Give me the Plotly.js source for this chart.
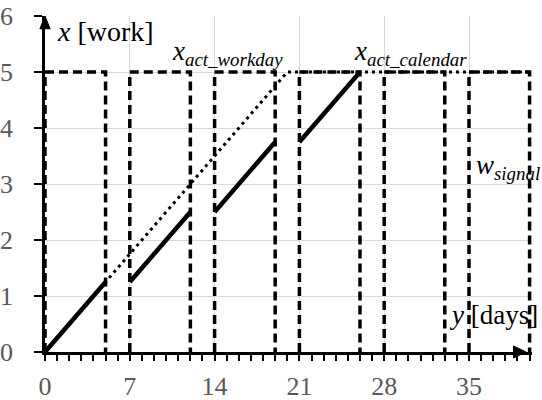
<!DOCTYPE html>
<html>
<head>
<meta charset="utf-8">
<script src="https://cdn.plot.ly/plotly-3.0.1.min.js"></script>
</head>
<body style="margin:0">
<div id="chart" style="width:542px;height:400px"></div>
<script>
// Signal (working days = 5, weekend = 0); null separates weeks
const signalDays = [0,0,5,5,null,7,7,12,12,null,14,14,19,19,null,21,21,26,26,null,28,28,33,33,null,35,35,40,40];
const signalWork = [0,5,5,0,null,0,5,5,0,null,0,5,5,0,null,0,5,5,0,null,0,5,5,0,null,0,5,5,0];
// Actual work on workdays (solid, segmented over weekends)
const workdayDays = [0,5,null,7,12,null,14,19,null,21,26];
const workdayWork = [0,1.25,null,1.25,2.5,null,2.5,3.75,null,3.75,5];
// Actual work on calendar days (dotted)
const calendarDays = [0,20,40];
const calendarWork = [0,5,5];
// Tick labels
const xTickVals = [0,7,14,21,28,35];
const yTickVals = [0,1,2,3,4,5,6];

const FAM = "Times New Roman";
const FS = 27;

const traces = [
  {x: signalDays, y: signalWork, mode: 'lines', connectgaps: false, line: {color: '#000', width: 3.5, dash: '9px,5px'}, hoverinfo: 'skip', showlegend: false},
  {x: calendarDays, y: calendarWork, mode: 'lines', line: {color: '#000', width: 3, dash: '3px,4px'}, hoverinfo: 'skip', showlegend: false, xaxis: 'x2'},
  {x: workdayDays, y: workdayWork, mode: 'lines', connectgaps: false, line: {color: '#000', width: 4.5}, hoverinfo: 'skip', showlegend: false}
];

const xr = [0, 40.2];
const layout = {
  width: 542, height: 400,
  margin: {l: 45, r: 10, t: 16, b: 48},
  showlegend: false,
  xaxis: {
    range: xr, tickvals: xTickVals, ticktext: xTickVals.map(String),
    showgrid: true, gridcolor: '#d9d9d9', gridwidth: 1,
    zeroline: false, showline: true, linecolor: '#000', linewidth: 2.5,
    ticks: 'outside', ticklen: 6, tickwidth: 2, tickcolor: '#000',
    minor: {dtick: 1, tick0: 0, ticks: 'outside', ticklen: 6, tickwidth: 2, tickcolor: '#000', showgrid: false},
    tickfont: {family: FAM, size: 26, color: '#595959'},
    ticklabelstandoff: 3
  },
  xaxis2: {
    range: xr, overlaying: 'x', anchor: 'y', side: 'bottom',
    tickvals: xTickVals, showticklabels: false, showgrid: false, zeroline: false, showline: false,
    ticks: 'inside', ticklen: 6, tickwidth: 2, tickcolor: '#000'
  },
  yaxis: {
    range: [0, 6], tickvals: yTickVals, ticktext: yTickVals.map(String),
    showgrid: true, gridcolor: '#d9d9d9', gridwidth: 1,
    zeroline: false, showline: true, linecolor: '#000', linewidth: 2.5,
    ticks: 'outside', ticklen: 8, tickwidth: 1.5, tickcolor: '#000',
    tickfont: {family: FAM, size: 26, color: '#595959'},
    ticklabelstandoff: 16
  },
  shapes: [
    {type: 'path', xref: 'paper', yref: 'paper', path: 'M -0.0105,0.962 L 0,1.0 L 0.0105,0.962 Z', fillcolor: '#000', line: {color: '#000', width: 1}},
    {type: 'path', xref: 'paper', yref: 'paper', path: 'M 0.962,0.018 L 0.988,0 L 0.962,-0.018 Z', fillcolor: '#000', line: {color: '#000', width: 1}}
  ],
  annotations: [
    {x: 0.85, y: 5.73, xref: 'x', yref: 'y', xanchor: 'left', yanchor: 'middle', showarrow: false,
     text: '<i>x</i> [work]', font: {family: FAM, size: 28, color: '#000'}},
    {x: 10.35, y: 5.0, xref: 'x', yref: 'y', xanchor: 'left', yanchor: 'bottom', showarrow: false,
     text: '<i>x<sub>act_workday</sub></i>', font: {family: FAM, size: FS, color: '#000'}},
    {x: 25.3, y: 5.0, xref: 'x', yref: 'y', xanchor: 'left', yanchor: 'bottom', showarrow: false,
     text: '<i>x<sub>act_calendar</sub></i>', font: {family: FAM, size: FS, color: '#000'}},
    {x: 35.45, y: 2.96, xref: 'x', yref: 'y', xanchor: 'left', yanchor: 'bottom', showarrow: false,
     text: '<i>w<sub>signal</sub></i>', font: {family: FAM, size: 27, color: '#000'}},
    {x: 33.15, y: 0.66, xref: 'x', yref: 'y', xanchor: 'left', yanchor: 'middle', showarrow: false,
     text: '<i>y</i> [days]', font: {family: FAM, size: FS, color: '#000'}}
  ]
};

Plotly.newPlot('chart', traces, layout, {displayModeBar: false});
</script>
</body>
</html>
